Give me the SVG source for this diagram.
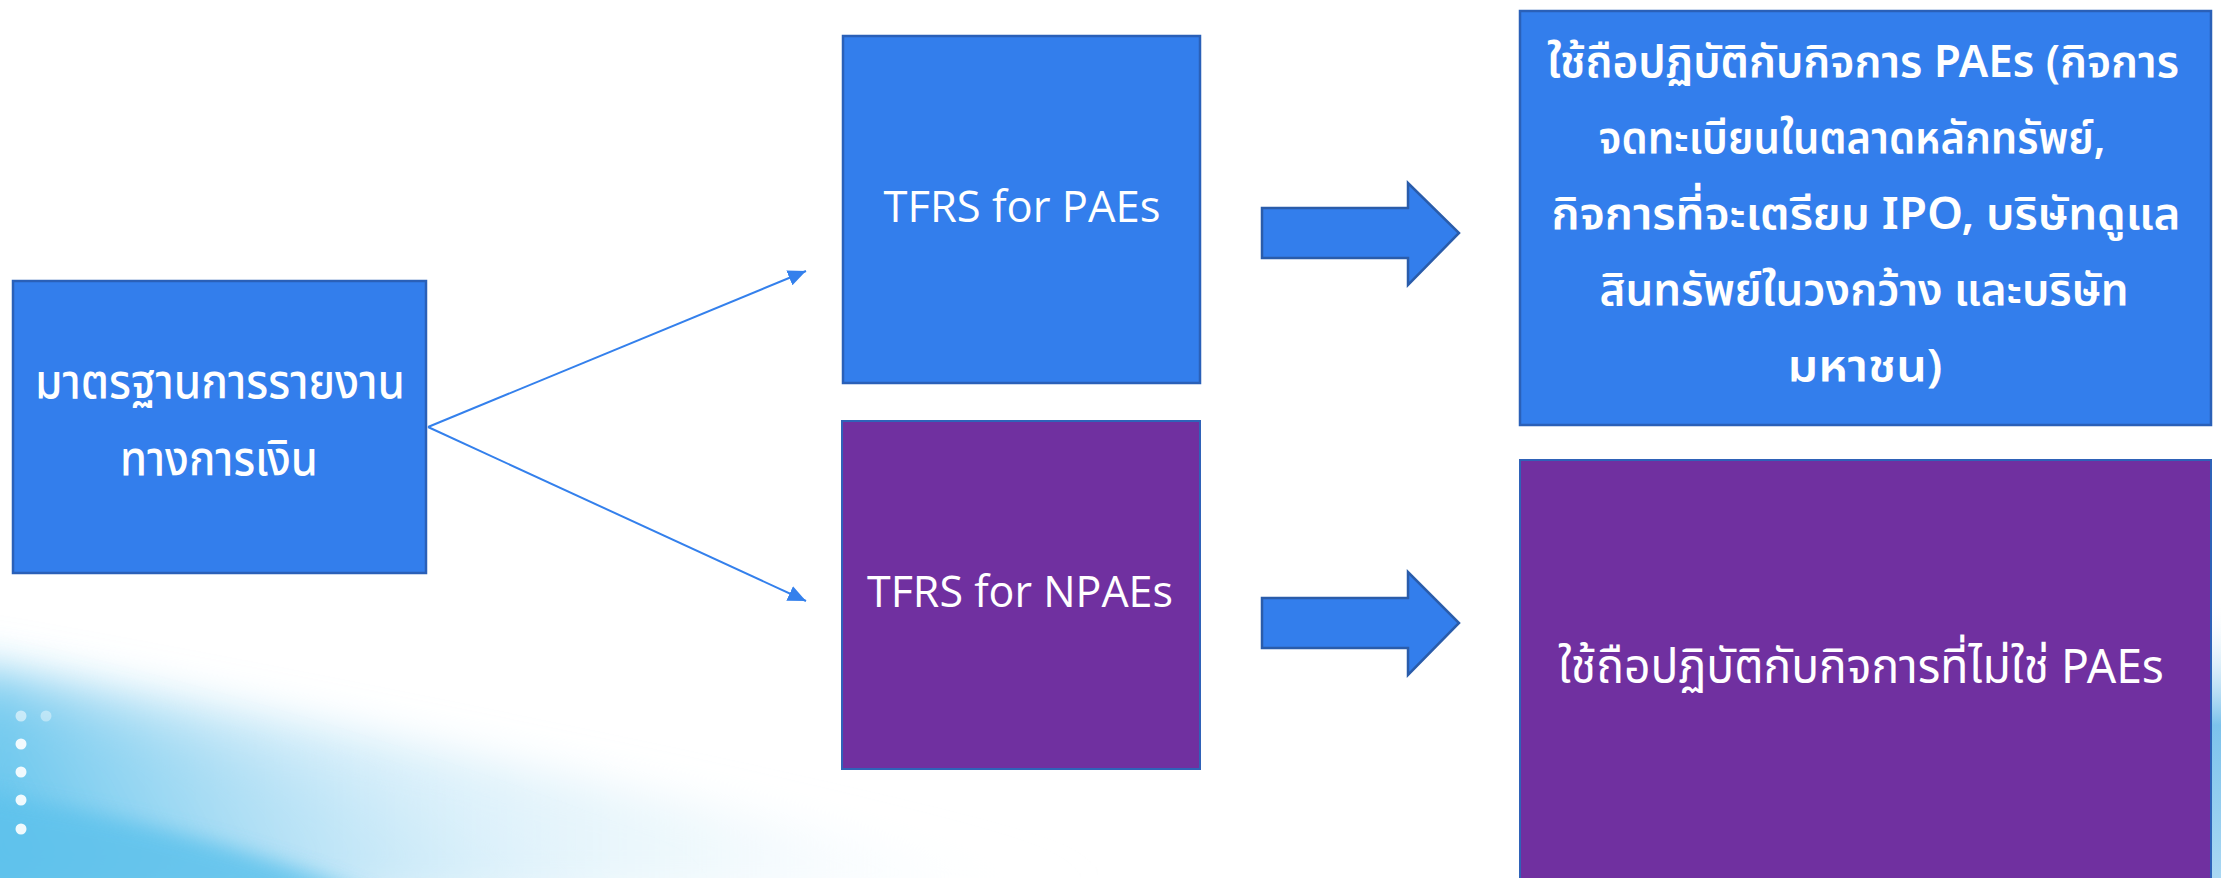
<svg xmlns="http://www.w3.org/2000/svg" width="2221" height="878" viewBox="0 0 2221 878">
  <style>
    .blue { fill: #337EEC; stroke: #2A60B8; stroke-width: 2.5; }
    .purple { fill: #7030A0; stroke: #2F62B8; stroke-width: 2; }
    .lbl { fill: #FFFFFF; font-family: "Noto Sans Thai", "Leelawadee UI", Tahoma, "Noto Sans", "DejaVu Sans", sans-serif; text-anchor: middle; }
    .lat { fill: #FFFFFF; font-family: "Open Sans", "Noto Sans", "Liberation Sans", sans-serif; text-anchor: middle; font-size: 44px; }
    .conn { stroke: #3480EC; stroke-width: 2; fill: none; }
    .blk { fill: #337EEC; stroke: #2A5CAA; stroke-width: 2.5; stroke-linejoin: miter; }
  </style>
  <defs>
    <marker id="ah" markerUnits="userSpaceOnUse" markerWidth="20" markerHeight="16" refX="18" refY="8" orient="auto">
      <path d="M0,0 L18,8 L0,16 Z" fill="#3480EC"/>
    </marker>
    <linearGradient id="swoosh" gradientUnits="userSpaceOnUse" x1="0" y1="878" x2="560" y2="580">
      <stop offset="0" stop-color="#5CC2EC"/>
      <stop offset="0.4" stop-color="#A8DCF4" stop-opacity="0.7"/>
      <stop offset="1" stop-color="#FFFFFF" stop-opacity="0"/>
    </linearGradient>
    <linearGradient id="swoosh2" gradientUnits="userSpaceOnUse" x1="0" y1="878" x2="1100" y2="878">
      <stop offset="0" stop-color="#8FD2F1" stop-opacity="0.75"/>
      <stop offset="0.6" stop-color="#D6EEF9" stop-opacity="0.45"/>
      <stop offset="1" stop-color="#FFFFFF" stop-opacity="0"/>
    </linearGradient>
    <linearGradient id="rside" x1="0" y1="0" x2="0" y2="1">
      <stop offset="0" stop-color="#FFFFFF" stop-opacity="0"/>
      <stop offset="0.45" stop-color="#7CC3EC"/>
      <stop offset="1" stop-color="#A9D8F3"/>
    </linearGradient>
    <filter id="soft" x="-0.2" y="-0.5" width="1.4" height="2">
      <feGaussianBlur stdDeviation="22"/>
    </filter>
    <filter id="soft2" x="-0.2" y="-0.5" width="1.4" height="2">
      <feGaussianBlur stdDeviation="10"/>
    </filter>
  </defs>

  <g id="background">
    <rect x="0" y="0" width="2221" height="878" fill="#FFFFFF"/>
    <path d="M-40,660 C250,710 700,800 1150,900 L-40,900 Z" fill="url(#swoosh2)" filter="url(#soft)"/>
    <path d="M-40,680 C200,735 450,810 700,900 L-40,900 Z" fill="url(#swoosh)" filter="url(#soft)"/>
    <path d="M-30,790 C120,815 260,850 380,900 L-30,900 Z" fill="#5FC2EC" opacity="0.85" filter="url(#soft2)"/>
    <rect x="2212" y="600" width="9" height="278" fill="url(#rside)"/>
    <g fill="#FFFFFF">
      <circle cx="21" cy="716" r="5.5" opacity="0.55"/>
      <circle cx="46" cy="716" r="5.5" opacity="0.4"/>
      <circle cx="21" cy="744" r="5.5" opacity="0.9"/>
      <circle cx="21" cy="772" r="5.5" opacity="0.9"/>
      <circle cx="21" cy="800" r="5.5" opacity="0.9"/>
      <circle cx="21" cy="829" r="5.5" opacity="0.9"/>
    </g>
  </g>

  <g id="connectors">
    <line class="conn" x1="428" y1="427" x2="806" y2="271" marker-end="url(#ah)"/>
    <line class="conn" x1="428" y1="427" x2="806" y2="601" marker-end="url(#ah)"/>
    <polygon class="blk" points="1262,208 1408,208 1408,183 1459,233 1408,285 1408,258 1262,258"/>
    <polygon class="blk" points="1262,598 1408,598 1408,572 1459,623 1408,675 1408,648 1262,648"/>
  </g>

  <g id="node-standard">
    <rect class="blue" x="13" y="281" width="413" height="292"/>
    <text class="lbl" font-size="48" font-weight="500" x="220" y="398" textLength="370" lengthAdjust="spacingAndGlyphs">มาตรฐานการรายงาน</text>
    <text class="lbl" font-size="48" font-weight="500" x="219" y="475" textLength="198" lengthAdjust="spacingAndGlyphs">ทางการเงิน</text>
  </g>

  <g id="node-tfrs-paes">
    <rect class="blue" x="843" y="36" width="357" height="347"/>
    <text class="lat" x="1022" y="222" textLength="277" lengthAdjust="spacingAndGlyphs">TFRS for PAEs</text>
  </g>

  <g id="node-tfrs-npaes">
    <rect class="purple" x="842" y="421" width="358" height="348"/>
    <text class="lat" x="1020" y="607" textLength="306" lengthAdjust="spacingAndGlyphs">TFRS for NPAEs</text>
  </g>

  <g id="node-paes-scope">
    <rect class="blue" x="1520" y="11" width="691" height="414"/>
    <text class="lbl" font-size="45" font-weight="600" x="1863" y="77" textLength="632" lengthAdjust="spacingAndGlyphs">ใช้ถือปฏิบัติกับกิจการ PAEs (กิจการ</text>
    <text class="lbl" font-size="45" font-weight="600" x="1852" y="153" textLength="507" lengthAdjust="spacingAndGlyphs">จดทะเบียนในตลาดหลักทรัพย์,</text>
    <text class="lbl" font-size="45" font-weight="600" x="1866" y="229" textLength="629" lengthAdjust="spacingAndGlyphs">กิจการที่จะเตรียม IPO, บริษัทดูแล</text>
    <text class="lbl" font-size="45" font-weight="600" x="1864" y="305" textLength="529" lengthAdjust="spacingAndGlyphs">สินทรัพย์ในวงกว้าง และบริษัท</text>
    <text class="lbl" font-size="45" font-weight="600" x="1865" y="381" textLength="155" lengthAdjust="spacingAndGlyphs">มหาชน)</text>
  </g>

  <g id="node-npaes-scope">
    <rect class="purple" x="1520" y="460" width="691" height="430"/>
    <text class="lbl" font-size="48" x="1861" y="683" textLength="606" lengthAdjust="spacingAndGlyphs">ใช้ถือปฏิบัติกับกิจการที่ไม่ใช่ PAEs</text>
  </g>
</svg>
